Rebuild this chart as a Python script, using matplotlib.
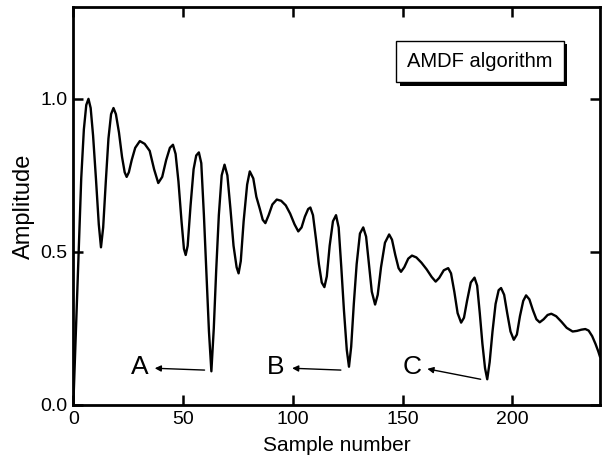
import matplotlib
matplotlib.use("Agg")
import matplotlib.pyplot as plt
import matplotlib.patheffects as pe

plt.rcParams['font.family'] = ['Liberation Sans', 'DejaVu Sans']

# AMDF curve (sample number, amplitude)
sample = [0.0, 1.2, 2.4, 3.6, 4.8, 5.9, 6.9, 7.9, 9.0, 10.3, 11.6, 12.6,
          13.6, 14.8, 16.0, 17.2, 18.3, 19.4, 20.8, 22.2, 23.4, 24.3, 25.3,
          26.6, 28.2, 30.3, 32.5, 34.8, 36.8, 38.7, 40.5, 42.3, 44.0, 45.4,
          46.6, 47.9, 49.3, 50.4, 51.2, 52.1, 53.4, 54.8, 56.0, 57.2, 58.3,
          59.5, 60.7, 61.8, 62.9, 64.0, 65.1, 66.3, 67.6, 68.9, 70.2, 71.6,
          73.0, 74.4, 75.3, 76.3, 77.6, 79.2, 80.4, 82.0, 83.4, 85.0, 86.3,
          87.5, 89.0, 90.7, 92.7, 94.7, 96.8, 98.8, 100.8, 102.5, 104.0,
          105.5, 107.0, 108.0, 109.2, 110.6, 111.9, 113.2, 114.4, 115.5,
          116.8, 118.3, 119.7, 120.9, 122.1, 123.3, 124.6, 125.6, 126.6,
          127.8, 129.1, 130.6, 132.1, 133.4, 134.7, 136.0, 137.5, 138.7,
          140.2, 142.0, 143.9, 145.2, 146.7, 148.2, 149.3, 150.8, 152.6,
          154.3, 156.3, 158.6, 161.0, 163.3, 165.1, 166.7, 168.8, 170.8,
          172.1, 173.6, 175.1, 176.7, 178.0, 179.4, 181.1, 182.8, 184.0,
          185.2, 186.4, 187.6, 188.6, 189.7, 191.0, 192.4, 193.8, 194.9,
          196.3, 197.7, 199.2, 200.7, 202.1, 203.5, 205.0, 206.3, 207.8,
          209.4, 211.0, 212.5, 214.3, 216.1, 217.8, 220.0, 222.4, 224.8,
          227.5, 229.5, 231.5, 233.3, 234.8, 236.4, 237.9, 239.2, 240.0]
amplitude = [0.00, 0.25, 0.50, 0.74, 0.90, 0.98, 1.00, 0.97, 0.88, 0.74, 0.59, 0.515,
             0.58, 0.73, 0.87, 0.95, 0.97, 0.95, 0.89, 0.81, 0.76, 0.745, 0.76,
             0.80, 0.84, 0.862, 0.853, 0.83, 0.77, 0.725, 0.745, 0.80, 0.84, 0.85,
             0.82, 0.73, 0.60, 0.51, 0.49, 0.52, 0.65, 0.77, 0.815, 0.825, 0.79,
             0.62, 0.42, 0.24, 0.11, 0.25, 0.44, 0.62, 0.75, 0.785, 0.75, 0.64,
             0.52, 0.45, 0.43, 0.47, 0.60, 0.72, 0.763, 0.74, 0.68, 0.64, 0.605,
             0.594, 0.62, 0.655, 0.671, 0.667, 0.652, 0.625, 0.59, 0.567, 0.58,
             0.615, 0.64, 0.645, 0.62, 0.54, 0.46, 0.40, 0.385, 0.42,
             0.52, 0.60, 0.62, 0.58, 0.45, 0.31, 0.18, 0.125, 0.19,
             0.33, 0.46, 0.56, 0.58, 0.55, 0.46, 0.37, 0.328, 0.36,
             0.45, 0.53, 0.557, 0.54, 0.49, 0.447, 0.435, 0.45, 0.478,
             0.488, 0.482, 0.465, 0.443, 0.418, 0.403, 0.415, 0.44, 0.447,
             0.43, 0.37, 0.30, 0.269, 0.285, 0.34, 0.40, 0.416, 0.39,
             0.30, 0.20, 0.12, 0.084, 0.14, 0.24, 0.33, 0.375, 0.382,
             0.36, 0.30, 0.24, 0.213, 0.23, 0.29, 0.34, 0.358, 0.345,
             0.31, 0.28, 0.27, 0.28, 0.294, 0.298, 0.29, 0.272, 0.252,
             0.24, 0.242, 0.246, 0.248, 0.243, 0.225, 0.20, 0.175, 0.157]

# pitch-period minima marked in the figure
marks = ['A', 'B', 'C']
mark_text_x = [30.3, 92.4, 154.3]
mark_text_y = [0.125, 0.125, 0.125]
arrow_head_x = [37.1, 99.7, 161.3]
arrow_head_y = [0.12, 0.12, 0.118]
arrow_tail_x = [59.8, 121.9, 185.6]
arrow_tail_y = [0.114, 0.114, 0.084]

fig = plt.figure(figsize=(6.03, 4.69), dpi=100)
ax = fig.add_axes([0.1216, 0.1365, 0.8735, 0.8486])

ax.plot(sample, amplitude, color='black', linewidth=1.7,
        solid_joinstyle='round', solid_capstyle='round')

for m, tx, ty, hx, hy, sx, sy in zip(marks, mark_text_x, mark_text_y,
                                     arrow_head_x, arrow_head_y,
                                     arrow_tail_x, arrow_tail_y):
    ax.text(tx, ty, m, fontsize=19, ha='center', va='center')
    ax.annotate('', xy=(hx, hy), xytext=(sx, sy),
                arrowprops=dict(arrowstyle='-|>', color='black', lw=1.0,
                                mutation_scale=9, shrinkA=0, shrinkB=0))

t = ax.text(0.772, 0.863, 'AMDF algorithm', transform=ax.transAxes,
            fontsize=14.5, ha='center', va='center',
            bbox=dict(boxstyle='square,pad=0.55', fc='white', ec='black', lw=1.0))
t.get_bbox_patch().set_path_effects([
    pe.SimplePatchShadow(offset=(2.5, -2.5), shadow_rgbFace='black', alpha=1.0),
    pe.Normal()])

ax.set_xlim(0, 240)
ax.set_ylim(0, 1.3)
ax.set_xticks([0, 50, 100, 150, 200])
ax.set_yticks([0.0, 0.5, 1.0])
ax.set_yticklabels(['0.0', '0.5', '1.0'])
ax.tick_params(direction='in', top=True, right=True, length=7, width=1.8,
               labelsize=14, pad=4)
for s in ax.spines.values():
    s.set_linewidth(2.0)

ax.set_xlabel('Sample number', fontsize=15, labelpad=6)
ax.set_ylabel('Amplitude', fontsize=17, labelpad=4)

fig.savefig('out.png', dpi=100)
